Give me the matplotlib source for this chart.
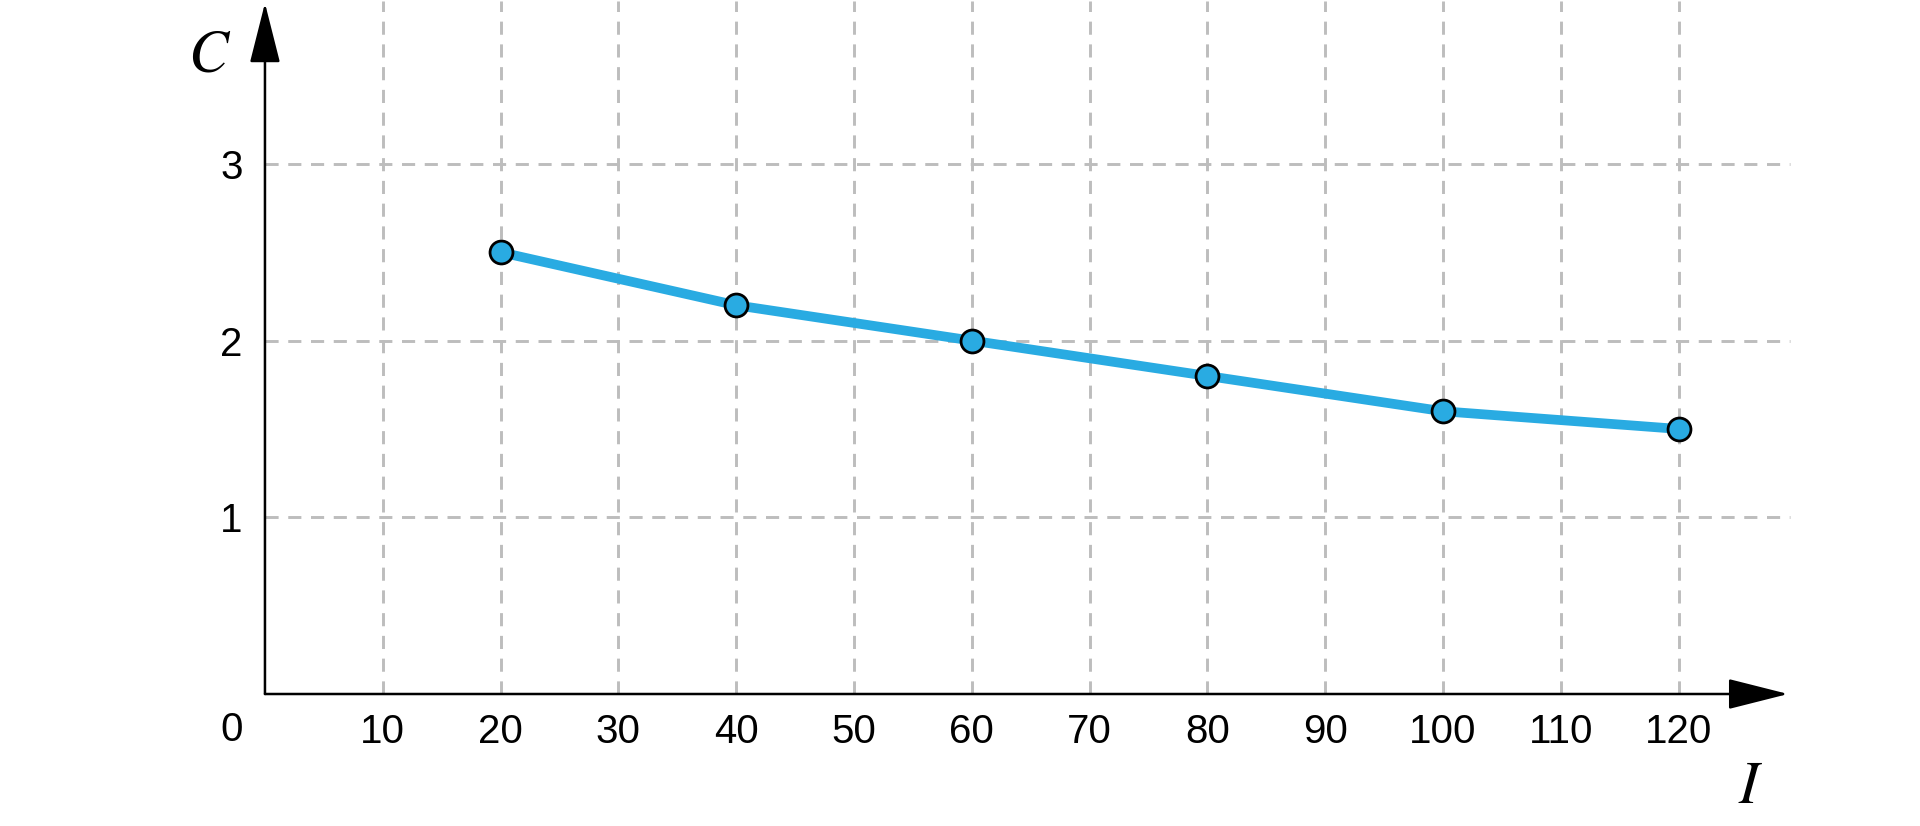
import matplotlib.pyplot as plt

plt.rcParams['font.family'] = ['Liberation Sans', 'DejaVu Sans']
plt.rcParams['mathtext.fontset'] = 'stix'

# data
I_vals = [20, 40, 60, 80, 100, 120]
C_vals = [2.5, 2.2, 2.0, 1.8, 1.6, 1.5]
x_ticks = [10, 20, 30, 40, 50, 60, 70, 80, 90, 100, 110, 120]
y_ticks = [1, 2, 3]

fig = plt.figure(figsize=(19.2, 8.26), dpi=100)
ax = fig.add_axes([0.138, 0.1598, 0.7976, 0.8386])
ax.set_xlim(0, 130)
ax.set_ylim(0, 3.92)
for s in ax.spines.values():
    s.set_visible(False)

# dashed grid
grid_kw = dict(color='#bdbdbd', linewidth=2.1, linestyles=(0, (4.5, 3.3)), zorder=1)
ax.vlines(x_ticks, 0, 3.92, **grid_kw)
ax.hlines(y_ticks, 0, 129.5, **grid_kw)

# axes with arrowheads
arr = dict(arrowstyle='-|>,head_length=1.9,head_width=0.48', color='black',
           lw=1.8, shrinkA=0, shrinkB=0, mutation_scale=20)
ax.annotate('', xy=(129.3, 0), xytext=(0, 0), arrowprops=arr, annotation_clip=False)
ax.annotate('', xy=(0, 3.91), xytext=(0, 0), arrowprops=arr, annotation_clip=False)

# data line
ax.plot(I_vals, C_vals, color='#29abe2', linewidth=7, zorder=3,
        solid_capstyle='round', solid_joinstyle='round')
ax.plot(I_vals, C_vals, linestyle='none', marker='o', markersize=16.5,
        markerfacecolor='#29abe2', markeredgecolor='black', markeredgewidth=2.0, zorder=4)

# ticks
ax.set_xticks(x_ticks)
ax.set_xticklabels([str(v) for v in x_ticks])
ax.set_yticks(y_ticks)
ax.set_yticklabels([str(v) for v in y_ticks])
ax.tick_params(length=0, labelsize=29, colors='black')
ax.tick_params(axis='x', pad=14)
ax.tick_params(axis='y', pad=16)
ax.annotate('0', xy=(0, 0), xytext=(-24, -26), textcoords='offset points',
            ha='center', va='center', fontsize=29, annotation_clip=False)

# axis labels
ax.text(-4.7, 3.61, '$C$', fontsize=43, ha='center', va='center', clip_on=False)
ax.text(126.1, -0.53, '$I$', fontsize=43, ha='center', va='center', clip_on=False)

fig.savefig('out.png', dpi=100)
